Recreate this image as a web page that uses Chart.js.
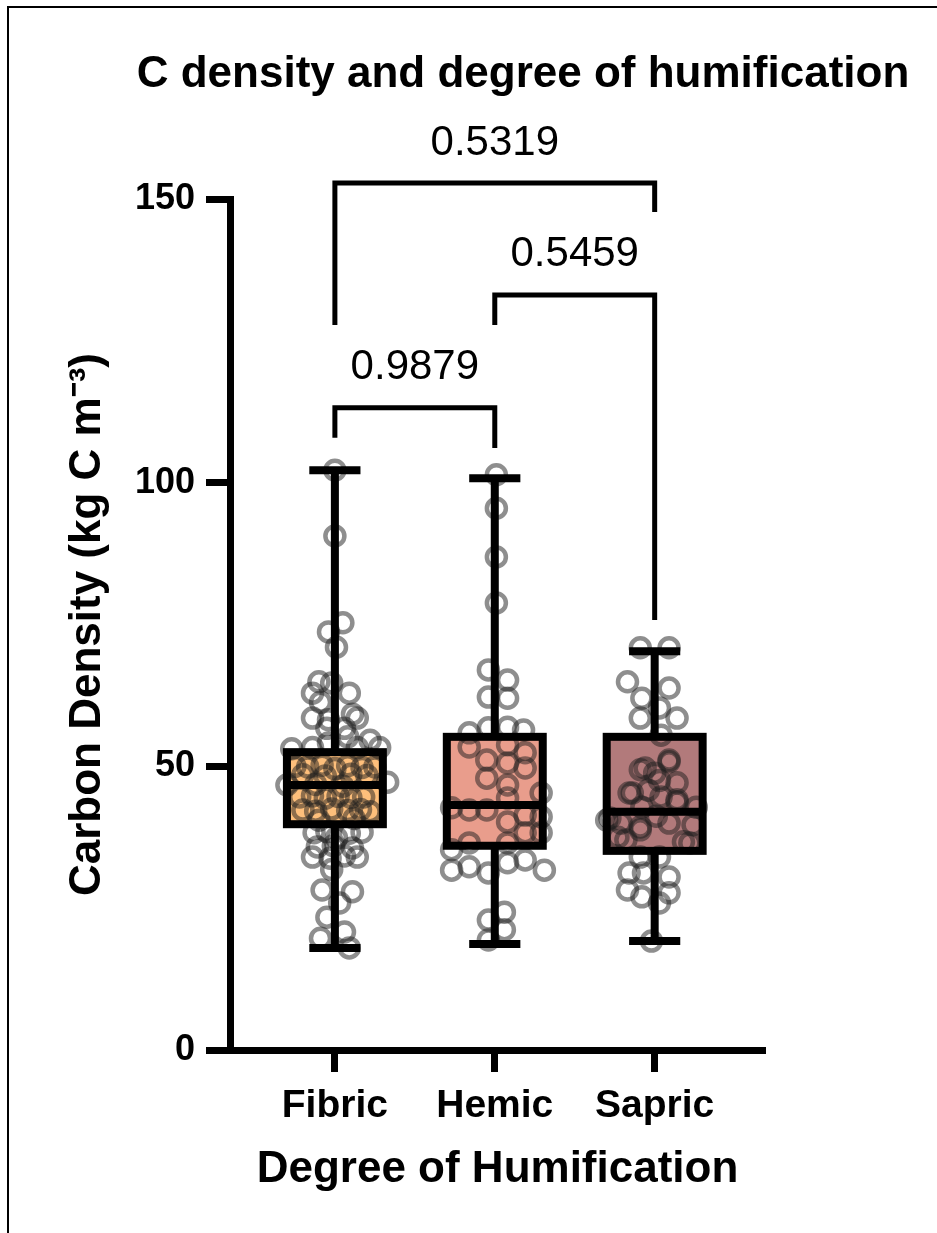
<!DOCTYPE html>
<html lang="en">
<head>
<meta charset="UTF-8" />
<title>C density and degree of humification</title>
<script src="https://cdn.jsdelivr.net/npm/chart.js"></script>
<style>
  html, body { margin: 0; padding: 0; background: #fff; overflow: hidden; }
  canvas { display: block; }
  /* thin frame left/top, as in the cropped figure */
  .frame {
    position: absolute; left: 7px; top: 6px; right: 0; bottom: 0;
    border-left: 2px solid #000; border-top: 2px solid #000;
    pointer-events: none;
  }
</style>
</head>
<body>
<canvas id="chart" width="937" height="1233"></canvas>
<div class="frame"></div>

<script>
  // categories + box stats
  const categories = ['Fibric', 'Hemic', 'Sapric'];
  const boxMin = [18.0, 18.7, 19.2];
  const boxQ1 = [39.8, 36.0, 35.1];
  const boxMedian = [46.7, 43.2, 42.0];
  const boxQ3 = [52.5, 55.2, 55.2];
  const boxMax = [102.2, 100.8, 70.3];
  const boxColors = ['#FEBF7B', '#E99D8C', '#B27A7B'];
  const yTicks = [0, 50, 100, 150];

  // individual points, jitter in category units
  const fibricValues = [102.2, 90.6, 75.3, 73.7, 71.0, 64.9, 64.7, 62.9, 62.9, 61.3, 58.5, 58.2, 59.2, 58.5, 56.7, 56.7, 55.2, 54.6, 53.1, 53.3, 54.1, 53.3, 53.3, 50.0, 49.9, 50.2, 49.6, 50.1, 49.8, 49.9, 48.5, 48.3, 48.6, 48.4, 46.7, 47.2, 46.8, 46.5, 44.6, 44.8, 44.4, 44.7, 44.5, 44.6, 42.3, 42.1, 42.5, 42.2, 42.4, 42.0, 40.5, 40.8, 38.3, 38.5, 38.2, 38.4, 35.8, 36.0, 35.6, 34.0, 33.8, 34.2, 34.0, 37.4, 31.8, 28.2, 27.9, 25.9, 23.4, 20.8, 19.7, 18.0];
  const fibricJitter = [0.0, 0.0, 0.05, -0.04, 0.01, -0.1, -0.02, -0.14, 0.09, -0.09, -0.14, -0.04, 0.11, 0.14, -0.05, 0.06, 0.08, 0.22, -0.27, -0.14, -0.04, 0.14, 0.28, -0.25, -0.17, -0.08, 0.0, 0.08, 0.17, 0.25, -0.2, -0.06, 0.1, 0.2, -0.3, 0.33, -0.12, 0.05, -0.22, -0.14, -0.06, 0.02, 0.1, 0.18, -0.2, -0.12, -0.02, 0.08, 0.16, 0.22, -0.1, 0.12, -0.13, -0.05, 0.09, 0.17, -0.11, -0.01, 0.11, -0.14, -0.03, 0.06, 0.14, 0.01, -0.02, -0.08, 0.11, 0.03, -0.05, 0.06, -0.09, 0.09];

  const hemicValues = [101.4, 95.5, 86.9, 78.8, 67.0, 65.2, 62.2, 62.0, 55.9, 56.8, 56.9, 56.4, 53.4, 53.8, 52.4, 51.1, 50.6, 49.7, 47.9, 46.7, 45.3, 44.4, 42.7, 42.3, 42.3, 41.1, 40.2, 41.4, 38.3, 38.3, 36.5, 36.5, 35.3, 31.7, 32.3, 31.2, 33.0, 33.5, 31.7, 24.3, 22.9, 21.2, 19.4];
  const hemicJitter = [0.01, 0.01, 0.01, 0.01, -0.04, 0.08, -0.04, 0.08, -0.16, -0.04, 0.08, 0.18, -0.16, 0.08, 0.19, -0.05, 0.08, 0.19, -0.05, 0.08, 0.29, 0.08, -0.27, -0.16, -0.05, 0.29, 0.08, 0.19, 0.29, 0.19, -0.16, 0.08, -0.27, -0.27, -0.16, -0.04, 0.08, 0.19, 0.31, 0.06, -0.04, 0.06, -0.04];

  const sapricValues = [70.9, 70.9, 64.9, 62.0, 63.8, 58.5, 60.3, 58.5, 55.5, 51.1, 49.4, 48.8, 47.1, 45.3, 45.8, 44.6, 43.7, 42.8, 42.8, 40.5, 40.0, 39.3, 40.0, 39.7, 37.5, 36.5, 34.0, 34.0, 31.2, 31.2, 30.5, 28.2, 27.0, 27.7, 25.9, 19.2, 49.7, 45.3, 40.9, 38.8, 37.0, 36.7, 44.1, 50.8, 47.5, 41.2];
  const sapricJitter = [-0.09, 0.09, -0.17, -0.08, 0.09, -0.09, 0.03, 0.14, 0.04, 0.09, -0.09, 0.0, 0.14, -0.14, -0.04, 0.04, 0.14, -0.08, 0.26, -0.3, -0.21, -0.09, 0.09, 0.24, -0.23, 0.22, -0.09, 0.03, -0.16, -0.07, 0.09, -0.17, -0.08, 0.09, 0.03, -0.02, -0.06, -0.16, -0.28, -0.09, -0.18, 0.18, 0.14, 0.09, 0.03, 0.01];

  // multiple comparisons: brackets and p values
  const pairFrom = [0, 1, 0];
  const pairTo = [2, 2, 1];
  const pairTop = [152.8, 133.1, 113.2];
  const pairLeftEnd = [127.8, 127.8, 107.9];
  const pairRightEnd = [147.7, 75.8, 106.1];
  const pairLabels = ['0.5319', '0.5459', '0.9879'];

  const FONT = '"Liberation Sans", Arial, Helvetica, sans-serif';
  const BOX_HALF = 0.3;
  const CAP_HALF = 0.16;

  Chart.defaults.font.family = FONT;
  Chart.defaults.color = '#000';

  function points(values, jitter, idx) {
    return values.map((v, i) => ({ x: idx + jitter[i], y: v }));
  }

  // box outlines, medians and whiskers on top of the points
  const boxLines = {
    id: 'boxLines',
    afterDatasetsDraw(chart) {
      const { ctx, scales: { x, y } } = chart;
      ctx.save();
      ctx.strokeStyle = '#000';
      ctx.lineWidth = 8;
      ctx.lineCap = 'butt';
      ctx.lineJoin = 'miter';
      categories.forEach((c, i) => {
        const cx = x.getPixelForValue(i);
        const l = x.getPixelForValue(i - BOX_HALF);
        const r = x.getPixelForValue(i + BOX_HALF);
        const cl = x.getPixelForValue(i - CAP_HALF);
        const cr = x.getPixelForValue(i + CAP_HALF);
        const yMin = y.getPixelForValue(boxMin[i]);
        const yQ1 = y.getPixelForValue(boxQ1[i]);
        const yMed = y.getPixelForValue(boxMedian[i]);
        const yQ3 = y.getPixelForValue(boxQ3[i]);
        const yMax = y.getPixelForValue(boxMax[i]);
        ctx.beginPath();
        ctx.moveTo(cx, yMax); ctx.lineTo(cx, yQ3);
        ctx.moveTo(cx, yQ1); ctx.lineTo(cx, yMin);
        ctx.moveTo(cl, yMax); ctx.lineTo(cr, yMax);
        ctx.moveTo(cl, yMin); ctx.lineTo(cr, yMin);
        ctx.moveTo(l, yMed); ctx.lineTo(r, yMed);
        ctx.stroke();
        ctx.strokeRect(l, yQ3, r - l, yQ1 - yQ3);
      });
      ctx.restore();
    }
  };

  // title + significance brackets
  const annotations = {
    id: 'annotations',
    afterDraw(chart) {
      const { ctx, scales: { x, y } } = chart;
      ctx.save();
      ctx.fillStyle = '#000';
      ctx.textAlign = 'center';
      ctx.textBaseline = 'middle';
      ctx.font = 'bold 44px ' + FONT;
      ctx.fillText('C density and degree of humification', 523, 75);

      ctx.strokeStyle = '#000';
      ctx.lineWidth = 5;
      ctx.lineJoin = 'miter';
      ctx.font = '42px ' + FONT;
      pairFrom.forEach((a, k) => {
        const xa = x.getPixelForValue(a);
        const xb = x.getPixelForValue(pairTo[k]);
        const yt = y.getPixelForValue(pairTop[k]);
        ctx.beginPath();
        ctx.moveTo(xa, y.getPixelForValue(pairLeftEnd[k]));
        ctx.lineTo(xa, yt);
        ctx.lineTo(xb, yt);
        ctx.lineTo(xb, y.getPixelForValue(pairRightEnd[k]));
        ctx.stroke();
        ctx.fillText(pairLabels[k], (xa + xb) / 2, yt - 40);
      });
      ctx.restore();
    }
  };

  const pointStyle = {
    type: 'scatter',
    pointStyle: 'circle',
    pointRadius: 9.5,
    pointBorderWidth: 4.5,
    pointBackgroundColor: 'rgba(0,0,0,0)',
    pointBorderColor: 'rgba(30,30,30,0.5)',
    order: 2
  };

  new Chart(document.getElementById('chart'), {
    type: 'bar',
    data: {
      datasets: [
        {
          type: 'bar',
          data: categories.map((c, i) => ({ x: i, y: [boxQ1[i], boxQ3[i]] })),
          backgroundColor: boxColors,
          borderWidth: 0,
          barThickness: 96,
          grouped: false,
          order: 3
        },
        { ...pointStyle, data: points(fibricValues, fibricJitter, 0) },
        { ...pointStyle, data: points(hemicValues, hemicJitter, 1) },
        { ...pointStyle, data: points(sapricValues, sapricJitter, 2) }
      ]
    },
    options: {
      responsive: false,
      animation: false,
      layout: { padding: { left: 0, top: 199, right: 172, bottom: 0 } },
      plugins: { legend: { display: false }, tooltip: { enabled: false }, title: { display: false } },
      scales: {
        x: {
          type: 'linear',
          min: -0.656,
          max: 2.69,
          offset: false,
          afterBuildTicks: (axis) => { axis.ticks = categories.map((c, i) => ({ value: i })); },
          afterFit: (axis) => { axis.height = 183; },
          ticks: {
            callback: (v) => categories[v],
            font: { size: 39, weight: 'bold' },
            padding: 11,
            maxRotation: 0,
            autoSkip: false
          },
          grid: {
            display: true, offset: false, drawOnChartArea: false, drawTicks: true,
            tickLength: 22, tickWidth: 7, tickColor: '#000'
          },
          border: { display: true, color: '#000', width: 7 },
          title: {
            display: true,
            text: 'Degree of Humification',
            font: { size: 44, weight: 'bold' },
            padding: { top: 0, bottom: 37 }
          }
        },
        y: {
          min: 0,
          max: 150,
          afterBuildTicks: (axis) => { axis.ticks = yTicks.map(v => ({ value: v })); },
          afterFit: (axis) => { axis.width = 230; },
          ticks: { font: { size: 36, weight: 'bold' }, padding: 11 },
          grid: {
            display: true, drawOnChartArea: false, drawTicks: true,
            tickLength: 24, tickWidth: 7, tickColor: '#000'
          },
          border: { display: true, color: '#000', width: 7 },
          title: {
            display: true,
            text: 'Carbon Density (kg C m⁻³)',
            font: { size: 44, weight: 'bold' },
            padding: { top: 61, bottom: 0 }
          }
        }
      }
    },
    plugins: [boxLines, annotations]
  });
</script>
</body>
</html>
